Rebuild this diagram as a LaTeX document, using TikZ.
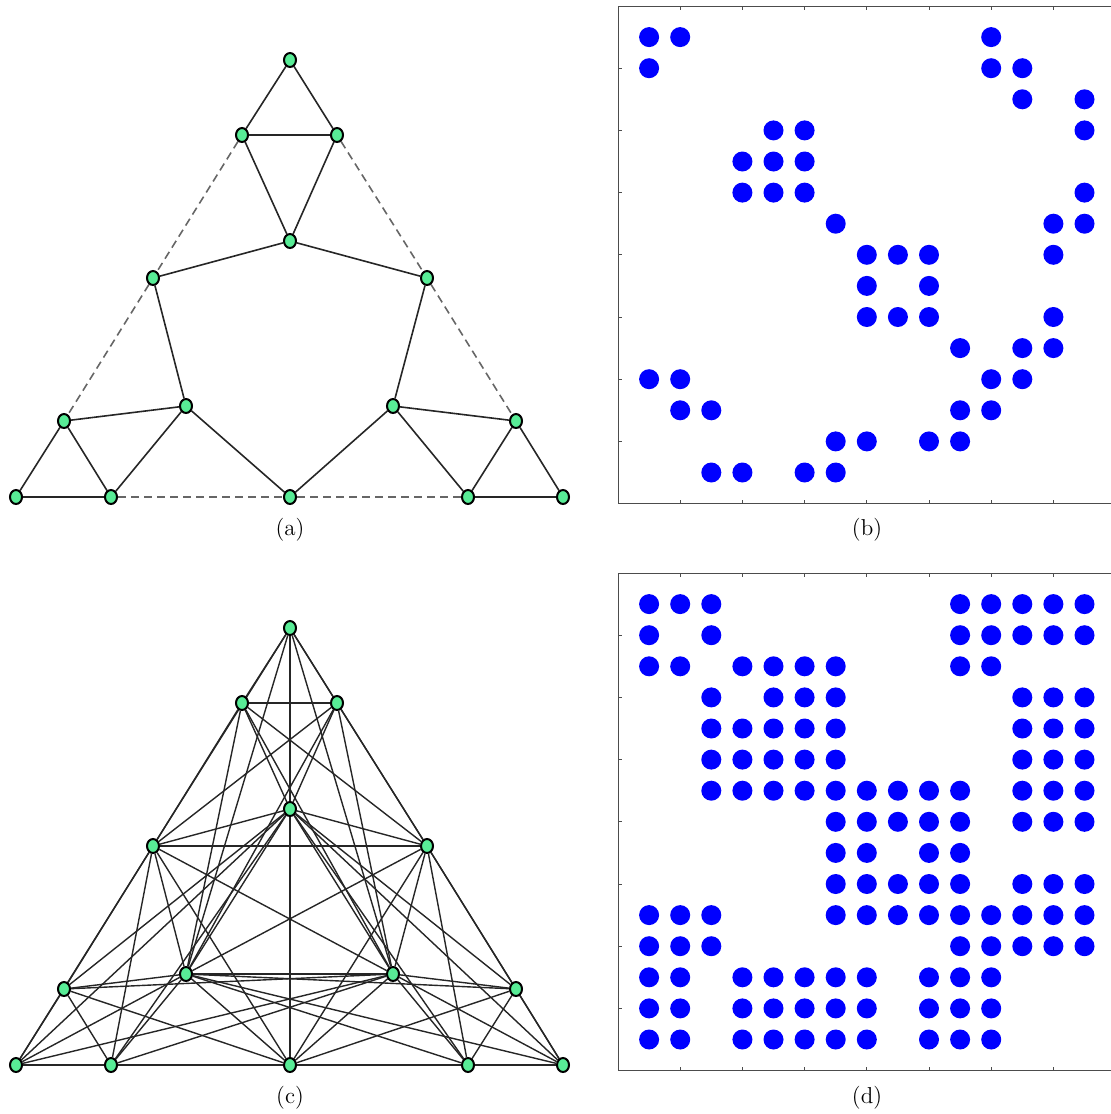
\documentclass[tikz,border=0pt]{standalone}
\usepackage{fontspec}
\usepackage{tikz}
\usetikzlibrary{shapes.geometric}

\definecolor{vgreen}{RGB}{88,236,150}
\definecolor{mblue}{RGB}{0,0,255}

\pgfdeclarelayer{bg}
\pgfsetlayers{bg,main}

\tikzset{
    vtx/.style={ellipse, draw=black, fill=vgreen, line width=1pt, minimum width=6pt, minimum height=7pt, inner sep=0pt},
    link/.style={line width=0.8pt, black!85},
    dense/.style={line width=0.7pt, black!85},
    gone/.style={line width=0.8pt, black!60, dash pattern=on 4pt off 2.5pt},
    dot/.style={fill=mblue},
    frame/.style={line width=0.5pt, black!70},
    subcap/.style={font=\fontsize{11.5}{14}\selectfont}
}

\begin{document}
\begin{tikzpicture}[x=0.5pt, y=-0.5pt]

    \useasboundingbox (0,0) rectangle (1111,1114);

    % === Vertices of (a) and (c) ===
    \foreach \n/\x/\y in {top/290/60, ul/242/135, ur/337/135, ctr/290/241,
                          lm/153/278, rm/427/278, ill/186/406, irl/393/406,
                          lc/64/421, rc/516/421, b1/16/497, b2/111/497,
                          b3/290/497, b4/468/497, b5/563/497} {
        \node[vtx] (a-\n) at (\x,\y) {};
        \node[vtx] (c-\n) at (\x,\y+568) {};
    }

    \begin{pgfonlayer}{bg}
        % Edges of (a)
        \foreach \u/\v in {top/ul, top/ur, ul/ur, ul/ctr, ur/ctr, ctr/lm, ctr/rm,
                           lm/ill, rm/irl, ill/lc, ill/b2, ill/b3, lc/b1, lc/b2, b1/b2,
                           irl/rc, irl/b4, irl/b3, rc/b4, rc/b5, b4/b5}
            \draw[link] (a-\u) -- (a-\v);

        % Removed edges of (a)
        \foreach \u/\v in {ul/lm, lm/lc, ur/rm, rm/rc, b2/b3, b3/b4}
            \draw[gone] (a-\u) -- (a-\v);

        % Edges of (c): corner cliques
        \foreach \u/\v in {top/ul, top/ur, top/lm, top/rm, ul/ur, ul/lm, ul/rm, ur/lm, ur/rm, lm/rm,
                           b1/lc, b1/lm, b1/b2, b1/b3, lc/lm, lc/b2, lc/b3, lm/b2, lm/b3, b2/b3,
                           b5/rc, b5/rm, b5/b4, b5/b3, rc/rm, rc/b4, rc/b3, rm/b4, rm/b3, b4/b3}
            \draw[dense] (c-\u) -- (c-\v);

        % Edges of (c): inner vertices
        \foreach \i in {ctr, ill, irl}
            \foreach \o in {top, ul, ur, lm, rm, lc, rc, b1, b2, b3, b4, b5}
                \draw[dense] (c-\i) -- (c-\o);
        \foreach \u/\v in {ctr/ill, ctr/irl, ill/irl}
            \draw[dense] (c-\u) -- (c-\v);
    \end{pgfonlayer}

    % === Matrix (b) ===
    \draw[frame] (1116,6) -- (618,6) -- (618,503.6) -- (1116,503.6);
    \foreach \k in {2,4,...,14} {
        \draw[frame] (618,6+\k*31.1) -- ++(4,0);
        \draw[frame] (618+\k*31.1,6) -- ++(0,4);
        \draw[frame] (618+\k*31.1,503.6) -- ++(0,-4);
    }
    \foreach \r/\cs in {1/{1,2,12}, 2/{1,12,13}, 3/{13,15}, 4/{5,6,15}, 5/{4,5,6},
                        6/{4,5,6,15}, 7/{7,14,15}, 8/{8,9,10,14}, 9/{8,10},
                        10/{8,9,10,14}, 11/{11,13,14}, 12/{1,2,12,13},
                        13/{2,3,11,12}, 14/{7,8,10,11}, 15/{3,4,6,7}}
        \foreach \c in \cs
            \fill[dot] (618+\c*31.1,6+\r*31.1) circle[radius=5pt];

    % === Matrix (d) ===
    \draw[frame] (1116,573) -- (618,573) -- (618,1070.6) -- (1116,1070.6);
    \foreach \k in {2,4,...,14} {
        \draw[frame] (618,573+\k*31.1) -- ++(4,0);
        \draw[frame] (618+\k*31.1,573) -- ++(0,4);
        \draw[frame] (618+\k*31.1,1070.6) -- ++(0,-4);
    }
    \foreach \r/\cs in {1/{1,2,3,11,12,13,14,15}, 2/{1,3,11,12,13,14,15},
                        3/{1,2,4,5,6,7,11,12}, 4/{3,5,6,7,13,14,15},
                        5/{3,4,5,6,7,13,14,15}, 6/{3,4,5,6,7,13,14,15},
                        7/{3,4,5,6,7,8,9,10,11,13,14,15}, 8/{7,8,9,10,11,13,14,15},
                        9/{7,8,10,11}, 10/{7,8,9,10,11,13,14,15},
                        11/{1,2,3,7,8,9,10,11,12,13,14,15}, 12/{1,2,3,11,12,13,14,15},
                        13/{1,2,4,5,6,7,8,10,11,12}, 14/{1,2,4,5,6,7,8,10,11,12},
                        15/{1,2,4,5,6,7,8,10,11,12}}
        \foreach \c in \cs
            \fill[dot] (618+\c*31.1,573+\r*31.1) circle[radius=5pt];

    % === Captions ===
    \node[subcap] (cap-a) at (290,530) {(a)};
    \node[subcap] (cap-b) at (867,530) {(b)};
    \node[subcap] (cap-c) at (290,1098) {(c)};
    \node[subcap] (cap-d) at (867,1098) {(d)};

\end{tikzpicture}
\end{document}
